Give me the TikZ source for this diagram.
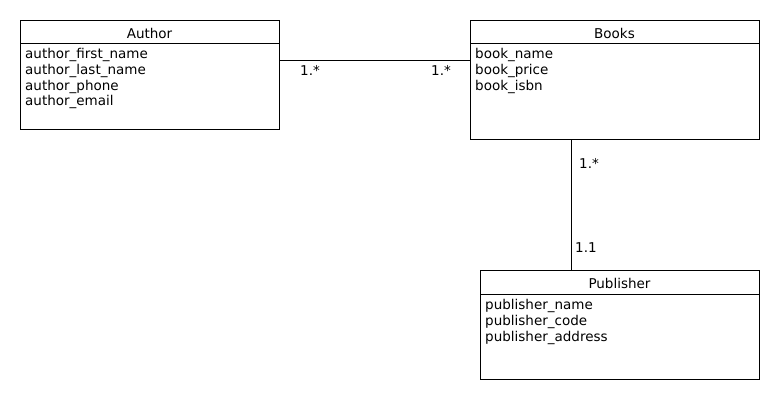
\documentclass[tikz,border=0pt]{standalone}
\usepackage{fontspec}
\setmainfont{DejaVu Sans}
\begin{document}
\begin{tikzpicture}[x=1pt,y=-1pt,
  classbox/.style={draw=black,line width=1pt,anchor=north west,inner sep=0pt,outer sep=0pt},
  title/.style={font=\fontsize{13.5}{15}\selectfont,inner sep=0pt,anchor=center},
  attrs/.style={font=\fontsize{13.5}{15.8}\selectfont,inner sep=0pt,anchor=north west,align=left},
  mult/.style={font=\fontsize{13.5}{15}\selectfont,inner sep=0pt,anchor=west},
  conn/.style={draw=black,line width=1pt}]
\useasboundingbox (0,0) rectangle (780,400);
\fill[white] (0,0) rectangle (780,400);
% Author
\node[classbox,minimum width=259pt,minimum height=109pt] (author) at (20,20) {};
\draw[conn] (20,43) -- (279,43);
\node[title] (authorT) at (149.5,33) {Author};
\node[attrs] (authorA) at (25,48) {author\_first\_name\\author\_last\_name\\author\_phone\\author\_email};
% Books
\node[classbox,minimum width=289pt,minimum height=119pt] (books) at (470,20) {};
\draw[conn] (470,43) -- (759,43);
\node[title] (booksT) at (614.5,33) {Books};
\node[attrs] (booksA) at (475,48) {book\_name\\book\_price\\book\_isbn};
% Publisher
\node[classbox,minimum width=279pt,minimum height=109pt] (pub) at (480,270) {};
\draw[conn] (480,294) -- (759,294);
\node[title] (pubT) at (619.5,283) {Publisher};
\node[attrs] (pubA) at (485,299) {publisher\_name\\publisher\_code\\publisher\_address};
% connectors
\coordinate (ab1) at (author.east |- 0,60);
\coordinate (ab2) at (books.west |- 0,60);
\draw[conn] (ab1) -- (ab2);
\coordinate (bp1) at (books.south -| 571,0);
\coordinate (bp2) at (pub.north -| 571,0);
\draw[conn] (bp1) -- (bp2);
% multiplicities
\node[mult] (m1) at (300,70) {1.*};
\node[mult] (m2) at (431,70) {1.*};
\node[mult] (m3) at (579,163) {1.*};
\node[mult] (m4) at (575,248) {1.1};
\end{tikzpicture}
\end{document}
